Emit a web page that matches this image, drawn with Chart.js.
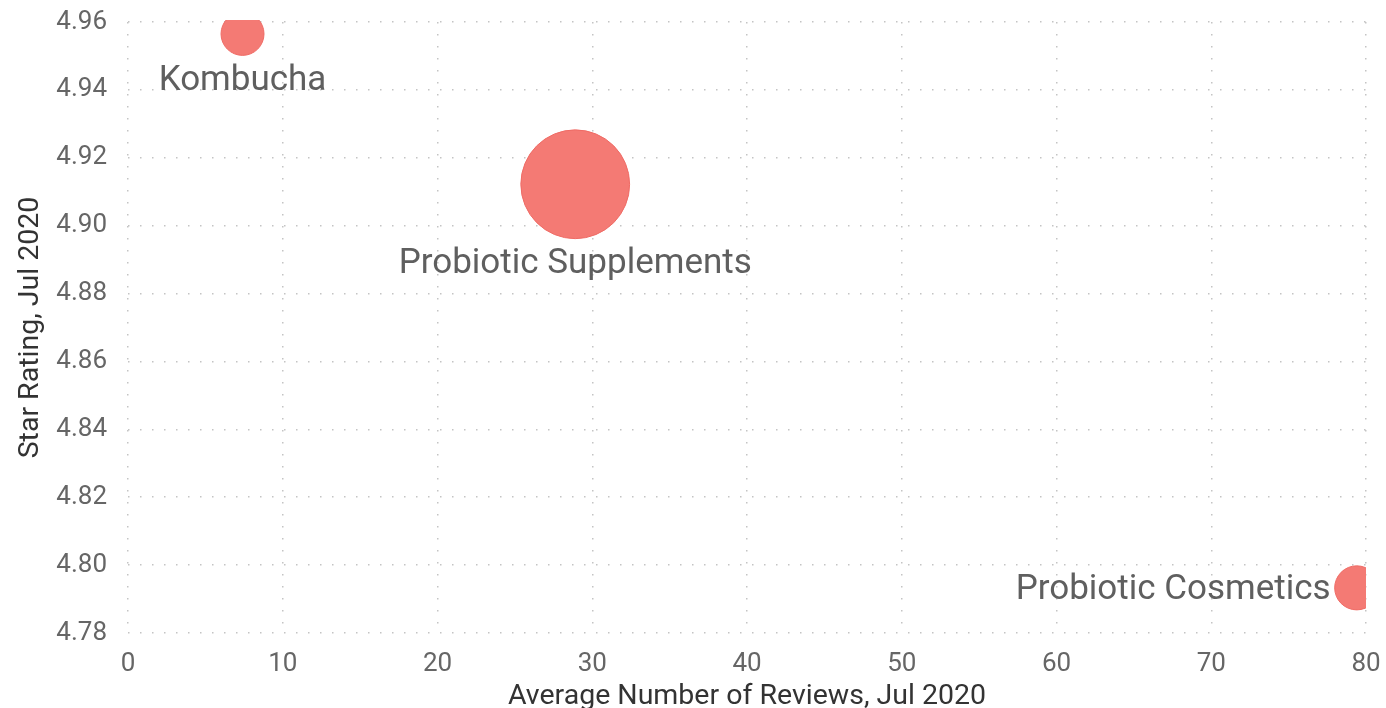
<!DOCTYPE html>
<html>
<head>
<meta charset="utf-8">
<script src="https://cdn.jsdelivr.net/npm/chart.js@4"></script>
<style>
  html, body { margin: 0; padding: 0; background: #fff; }
  #wrap { width: 1386px; height: 708px; }
</style>
</head>
<body>
<div id="wrap"><canvas id="canvas" width="1386" height="708"></canvas></div>
<script>
// chart data
const categories = ['Kombucha', 'Probiotic Supplements', 'Probiotic Cosmetics']
const avgReviews = [7.4, 28.9, 79.4]
const starRating = [4.9565, 4.9122, 4.7933]
const bubbleSize = [1, 6.4, 1.05]
const yTicks = [4.78, 4.80, 4.82, 4.84, 4.86, 4.88, 4.90, 4.92, 4.94, 4.96]
const xTicks = [0, 10, 20, 30, 40, 50, 60, 70, 80]

const textColor = '#666666'
const titleColor = '#333333'
const fontFamily = 'Roboto, "DejaVu Sans", sans-serif'

const points = categories.map((name, i) => ({
    x: avgReviews[i],
    y: starRating[i],
    r: 21.5 * Math.sqrt(bubbleSize[i])
}))

// where each data label goes relative to its bubble
const labelSide = ['below', 'below', 'left']

const bubbleLabels = {
    id: 'bubbleLabels',
    afterDatasetsDraw(chart) {
        const ctx = chart.ctx
        const meta = chart.getDatasetMeta(0)
        ctx.save()
        ctx.font = '35px ' + fontFamily
        ctx.fillStyle = '#5F5F5F'
        ctx.textBaseline = 'middle'
        meta.data.forEach((el, i) => {
            const r = el.options.radius
            if (labelSide[i] == 'left') {
                ctx.textAlign = 'right'
                ctx.fillText(categories[i], el.x - r - 4, el.y + 2)
            } else {
                ctx.textAlign = 'center'
                ctx.fillText(categories[i], el.x, el.y + r + 26)
            }
        })
        ctx.restore()
    }
}

// no extra room for edge labels, layout padding decides the plot box
function noPad(scale) {
    scale.paddingTop = 0
    scale.paddingBottom = 0
    scale.paddingLeft = 0
    scale.paddingRight = 0
}

const ctx = document.getElementById('canvas')
new Chart(ctx, {
    type: 'bubble',
    data: {
        datasets: [{
            label: 'Categories',
            data: points,
            backgroundColor: '#F47A74',
            borderColor: '#EF6B65',
            borderWidth: 1,
            hoverBorderWidth: 1,
            clip: { left: 0, top: 2, right: 0, bottom: 0 }
        }]
    },
    options: {
        responsive: false,
        animation: false,
        events: [],
        layout: { autoPadding: false, padding: { left: 0, right: 20, top: 22, bottom: 0 } },
        plugins: {
            legend: { display: false },
            tooltip: { enabled: false }
        },
        scales: {
            x: {
                type: 'linear',
                min: xTicks[0],
                max: xTicks[xTicks.length - 1],
                afterBuildTicks(scale) { scale.ticks = xTicks.map(v => ({ value: v })) },
                afterFit(scale) { scale.height = 75; noPad(scale) },
                grid: { color: '#C4C4C4', lineWidth: 1.5, drawTicks: false },
                border: { display: false, dash: [1.5, 10.5] },
                ticks: {
                    color: textColor,
                    padding: 16,
                    maxRotation: 0,
                    font: { family: fontFamily, size: 26 }
                },
                title: {
                    display: true,
                    text: 'Average Number of Reviews, Jul 2020',
                    color: titleColor,
                    padding: { top: 0, bottom: -6 },
                    font: { family: fontFamily, size: 28.5 }
                }
            },
            y: {
                type: 'linear',
                min: yTicks[0],
                max: yTicks[yTicks.length - 1],
                afterBuildTicks(scale) { scale.ticks = yTicks.map(v => ({ value: v })) },
                afterFit(scale) { scale.width = 128; noPad(scale) },
                grid: { color: '#C4C4C4', lineWidth: 1.5, drawTicks: false },
                border: { display: false, dash: [1.5, 10.5] },
                ticks: {
                    color: textColor,
                    padding: 21,
                    callback: v => v.toFixed(2),
                    font: { family: fontFamily, size: 26 }
                },
                title: {
                    display: true,
                    text: 'Star Rating, Jul 2020',
                    color: titleColor,
                    padding: { top: 14, bottom: 0 },
                    font: { family: fontFamily, size: 28.5 }
                }
            }
        }
    },
    plugins: [bubbleLabels]
})
</script>
</body>
</html>
